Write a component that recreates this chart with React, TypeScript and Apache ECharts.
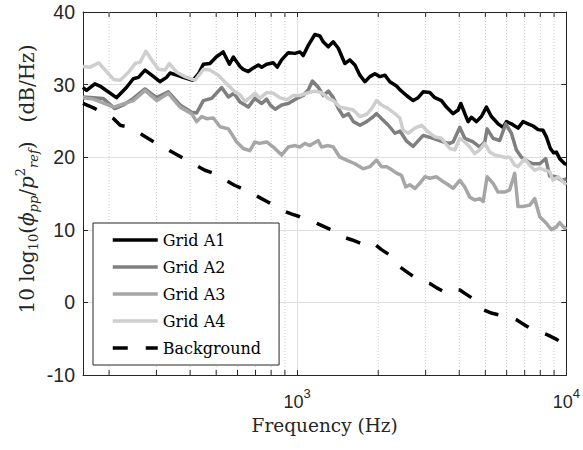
import React, { useEffect, useRef } from 'react';
import * as echarts from 'echarts';

// [frequency (Hz), level (dB/Hz)]
const gridA1: [number, number][] = [
  [160, 29.6], [165, 29.2], [177, 30.1], [185, 29.8], [213, 28.2], [232, 29.6], [246, 30.8], [257, 31.0],
  [272, 32.0], [288, 31.3], [309, 30.4], [327, 31.0], [337, 31.6], [357, 31.3], [377, 31.0], [410, 30.6],
  [430, 31.5], [448, 32.8], [474, 32.9], [500, 33.8], [531, 34.5], [560, 32.8], [579, 33.8], [613, 32.5],
  [630, 32.1], [658, 31.8], [687, 32.3], [717, 32.7], [738, 32.4], [770, 32.8], [815, 33.0], [843, 32.4],
  [875, 33.4], [926, 34.4], [981, 34.3], [1023, 34.5], [1053, 34.0], [1099, 35.4], [1163, 36.9], [1214, 36.7],
  [1249, 35.9], [1304, 35.2], [1361, 35.9], [1421, 35.0], [1503, 32.9], [1569, 33.4], [1638, 32.7], [1709, 31.3],
  [1784, 30.4], [1862, 31.1], [1943, 31.5], [2028, 31.1], [2117, 31.3], [2209, 30.4], [2338, 29.8], [2406, 29.3],
  [2547, 28.5], [2696, 27.8], [2813, 28.2], [2937, 29.0], [3109, 28.9], [3245, 28.2], [3435, 27.8], [3585, 26.9],
  [3795, 26.0], [3961, 26.5], [4053, 27.4], [4194, 26.0], [4314, 24.9], [4439, 25.5], [4634, 24.9], [4835, 25.6],
  [5047, 26.9], [5266, 25.6], [5576, 24.6], [5819, 24.1], [5988, 24.9], [6248, 24.6], [6614, 24.0], [6904, 24.9],
  [7204, 24.6], [7520, 24.3], [7849, 23.8], [8190, 23.7], [8427, 22.8], [8721, 21.2], [8974, 20.6], [9181, 20.7],
  [9447, 19.8], [9858, 19.1], [10000, 19.0],
];

const gridA2: [number, number][] = [
  [160, 28.3], [175, 28.2], [190, 28.1], [210, 26.7], [226, 27.2], [246, 28.1], [272, 29.4], [300, 28.2],
  [332, 29.0], [367, 27.2], [405, 26.2], [423, 26.1], [448, 27.8], [481, 28.1], [524, 29.6], [555, 28.3],
  [582, 28.8], [613, 27.6], [658, 26.9], [696, 28.1], [738, 27.4], [770, 28.0], [793, 27.2], [828, 26.6],
  [876, 27.2], [927, 27.4], [996, 28.1], [1054, 28.5], [1100, 29.3], [1139, 30.5], [1199, 29.6], [1251, 28.5],
  [1306, 29.1], [1362, 28.2], [1422, 26.7], [1484, 25.6], [1549, 26.0], [1617, 24.9], [1711, 24.4], [1811, 24.9],
  [1918, 25.6], [1973, 26.0], [2059, 25.3], [2181, 24.4], [2308, 23.3], [2409, 23.6], [2550, 22.2], [2696, 21.5],
  [2937, 23.0], [3199, 22.6], [3484, 22.1], [3688, 21.9], [3795, 22.1], [4018, 24.1], [4194, 22.6], [4502, 22.1],
  [4767, 21.4], [4976, 22.1], [5077, 23.9], [5343, 22.6], [5655, 22.3], [5952, 24.6], [6248, 23.3], [6523, 21.0],
  [6807, 20.0], [7204, 19.4], [7520, 19.1], [7962, 19.1], [8381, 19.8], [8671, 17.4], [9181, 17.3], [9581, 16.8],
  [10000, 17.0],
];

const gridA3: [number, number][] = [
  [160, 28.2], [175, 28.0], [208, 26.9], [246, 27.8], [272, 29.2], [301, 27.8], [332, 28.8], [367, 26.9],
  [405, 26.0], [423, 24.9], [442, 25.6], [461, 25.3], [488, 25.4], [517, 24.2], [555, 23.9], [596, 22.1],
  [630, 21.2], [667, 20.9], [696, 22.1], [723, 21.9], [770, 22.1], [815, 21.4], [875, 20.3], [926, 21.4],
  [981, 21.6], [1023, 21.4], [1068, 21.9], [1115, 21.6], [1147, 21.9], [1197, 22.3], [1231, 21.4], [1304, 21.6],
  [1361, 21.4], [1441, 20.0], [1525, 19.6], [1638, 19.1], [1758, 18.4], [1862, 18.7], [1971, 19.6], [2057, 18.7],
  [2147, 18.7], [2240, 18.3], [2338, 17.8], [2440, 17.5], [2530, 15.9], [2620, 16.2], [2735, 15.7], [2854, 16.4],
  [2979, 17.3], [3109, 17.1], [3292, 17.3], [3435, 16.8], [3637, 16.2], [3795, 15.7], [4018, 16.8], [4194, 15.9],
  [4376, 14.5], [4567, 14.1], [4767, 14.3], [4906, 13.9], [5077, 17.3], [5343, 16.4], [5576, 15.2], [5900, 15.2],
  [6160, 15.5], [6427, 17.8], [6612, 13.2], [6904, 13.2], [7307, 13.4], [7628, 14.3], [7962, 11.8], [8427, 10.9],
  [8797, 10.0], [9181, 10.4], [9447, 11.0], [9858, 10.2], [10000, 10.4],
];

const gridA4: [number, number][] = [
  [160, 32.5], [170, 32.4], [183, 33.0], [208, 30.7], [220, 30.6], [236, 31.7], [250, 32.9], [261, 33.1],
  [274, 34.6], [288, 33.4], [305, 32.1], [323, 32.0], [335, 32.9], [357, 31.7], [383, 31.1], [417, 30.6],
  [448, 32.1], [474, 32.0], [509, 31.3], [547, 30.1], [587, 29.0], [613, 28.6], [640, 27.7], [667, 28.2],
  [697, 28.8], [727, 28.1], [770, 28.9], [815, 28.8], [862, 28.2], [913, 27.9], [967, 28.5], [1023, 28.5],
  [1083, 28.8], [1163, 29.1], [1232, 28.9], [1304, 28.1], [1361, 27.8], [1441, 26.9], [1525, 26.7], [1614, 26.5],
  [1709, 25.6], [1809, 25.9], [1889, 26.7], [1971, 27.8], [2057, 27.2], [2177, 26.7], [2305, 26.0], [2406, 25.4],
  [2475, 23.7], [2584, 23.3], [2735, 24.0], [2895, 24.4], [3064, 23.5], [3245, 22.8], [3435, 22.6], [3688, 21.2],
  [3850, 21.0], [4018, 22.6], [4194, 22.1], [4376, 21.4], [4567, 20.5], [4767, 21.0], [4976, 21.9], [5192, 20.7],
  [5418, 20.3], [5900, 20.0], [6160, 20.0], [6427, 18.9], [6612, 18.7], [7003, 19.8], [7307, 18.9], [7628, 18.2],
  [7962, 18.5], [8311, 18.2], [8671, 18.0], [8920, 16.8], [9311, 17.3], [9858, 16.4], [10000, 16.2],
];

const background: [number, number][] = [
  [160, 27.4], [175, 26.8], [195, 25.9], [208, 25.3], [220, 24.4], [233, 24.2], [250, 23.7], [268, 23.0],
  [300, 21.9], [347, 20.6], [388, 19.6], [420, 18.9], [454, 18.2], [488, 17.8], [517, 17.3], [550, 16.7],
  [587, 16.1], [613, 15.8], [667, 15.2], [720, 14.5], [781, 13.8], [875, 12.7], [950, 12.2], [1023, 11.8],
  [1144, 11.1], [1230, 10.6], [1319, 10.1], [1400, 9.7], [1482, 9.0], [1600, 8.6], [1733, 8.1], [1862, 7.6],
  [1944, 8.0], [2050, 7.3], [2210, 6.5], [2406, 4.9], [2600, 4.0], [2775, 3.3], [3110, 2.6], [3300, 2.0],
  [3585, 1.3], [3796, 1.8], [4019, 1.7], [4250, 1.1], [4504, 0.5], [4907, -1.0], [5300, -1.5], [5739, -1.8],
  [6075, -2.0], [6524, -2.4], [7000, -3.1], [7522, -3.8], [8000, -4.1], [8551, -4.5], [9200, -5.1], [9858, -5.7],
  [10000, -5.8],
];

const seriesNames = ['Grid A1', 'Grid A2', 'Grid A3', 'Grid A4', 'Background'];
const minorFreqs = [200, 300, 400, 500, 600, 700, 800, 900, 2000, 3000, 4000, 5000, 6000, 7000, 8000, 9000];
const X_MIN = 160;
const X_MAX = 10000;
const Y_MIN = -10;
const Y_MAX = 40;
const Y_STEP = 10;

const AXIS_COLOR = '#262626';
const SERIF = 'DejaVu Serif';
const SANS = 'Liberation Sans';

export default function App() {
  const ref = useRef<HTMLDivElement>(null);

  useEffect(() => {
    if (!ref.current) return;
    const chart = echarts.init(ref.current, null, { renderer: 'svg' });

    const lineSeries = (name: string, data: [number, number][], color: string, dashed = false) => ({
      type: 'line',
      name,
      data,
      symbol: 'none',
      showSymbol: false,
      silent: true,
      z: 3,
      lineStyle: { color, width: 3.5, type: dashed ? [15, 18] : 'solid', join: 'round' },
      itemStyle: { color },
      emphasis: { disabled: true },
    });

    const xLabelFormatter = (v: number) => {
      const e = Math.log10(v);
      if (Math.abs(e - Math.round(e)) < 1e-6) return `{b|10}{s|${Math.round(e)}}`;
      return '';
    };

    const yTitle =
      '{n|10 log}{sb|10}{n|(}{it|ϕ}{sbi|pp}{n|/}{it|p}{sp|2}{sbi|ref}{n|)   (dB/Hz)}';

    const rt = (size: number, extra: Record<string, unknown> = {}) => ({
      fontFamily: SERIF,
      fontSize: size,
      fill: AXIS_COLOR,
      color: AXIS_COLOR,
      ...extra,
    });

    chart.setOption({
      animation: false,
      backgroundColor: '#ffffff',
      grid: { left: 83, right: 16, top: 12, bottom: 75, containLabel: false },
      xAxis: [
        {
          type: 'log',
          logBase: 10,
          min: X_MIN,
          max: X_MAX,
          name: 'Frequency (Hz)',
          nameLocation: 'middle',
          nameGap: 36,
          nameTextStyle: { fontFamily: SERIF, fontSize: 18.5, color: AXIS_COLOR },
          axisLine: { show: true, onZero: false, lineStyle: { color: AXIS_COLOR, width: 1 } },
          axisTick: { show: true, inside: true, length: 5, lineStyle: { color: AXIS_COLOR } },
          axisLabel: {
            show: true,
            margin: 12,
            formatter: xLabelFormatter,
            rich: {
              b: { fontFamily: SANS, fontSize: 18, color: AXIS_COLOR, lineHeight: 30, verticalAlign: 'middle' },
              s: { fontFamily: SANS, fontSize: 13, color: AXIS_COLOR, lineHeight: 12, verticalAlign: 'top' },
            },
          },
          splitLine: { show: true, lineStyle: { color: '#dedede', width: 1 } },
        },
        {
          type: 'log',
          logBase: 10,
          min: X_MIN,
          max: X_MAX,
          position: 'top',
          axisLine: { show: true, onZero: false, lineStyle: { color: AXIS_COLOR, width: 1 } },
          axisTick: { show: true, inside: true, length: 5, lineStyle: { color: AXIS_COLOR } },
          axisLabel: { show: false },
          splitLine: { show: false },
        },
      ],
      yAxis: [
        {
          type: 'value',
          min: Y_MIN,
          max: Y_MAX,
          interval: Y_STEP,
          axisLine: { show: true, onZero: false, lineStyle: { color: AXIS_COLOR, width: 1 } },
          axisTick: { show: true, inside: true, length: 5, lineStyle: { color: AXIS_COLOR } },
          axisLabel: { fontFamily: SANS, fontSize: 19.5, color: AXIS_COLOR, margin: 8 },
          splitLine: { show: true, lineStyle: { color: '#dedede', width: 1 } },
        },
        {
          type: 'value',
          min: Y_MIN,
          max: Y_MAX,
          interval: Y_STEP,
          position: 'right',
          axisLine: { show: true, onZero: false, lineStyle: { color: AXIS_COLOR, width: 1 } },
          axisTick: { show: true, inside: true, length: 5, lineStyle: { color: AXIS_COLOR } },
          axisLabel: { show: false },
          splitLine: { show: false },
        },
      ],
      legend: {
        data: seriesNames,
        orient: 'vertical',
        left: 93,
        top: 223,
        itemWidth: 45,
        itemHeight: 14,
        itemGap: 9,
        padding: [8, 18, 8, 18],
        backgroundColor: '#ffffff',
        borderColor: AXIS_COLOR,
        borderWidth: 1,
        borderRadius: 0,
        selectedMode: false,
        lineStyle: { width: 3.5 },
        itemStyle: { color: 'transparent', borderWidth: 0, opacity: 0 },
        textStyle: { fontFamily: SERIF, fontSize: 16, color: '#000000', lineHeight: 18 },
      },
      graphic: [
        {
          type: 'text',
          x: 27,
          y: 179,
          rotation: Math.PI / 2,
          silent: true,
          style: {
            text: yTitle,
            align: 'center',
            verticalAlign: 'middle',
            textAlign: 'center',
            textVerticalAlign: 'middle',
            fill: AXIS_COLOR,
            fontFamily: SERIF,
            fontSize: 20,
            rich: {
              n: rt(20, { lineHeight: 26, verticalAlign: 'middle' }),
              it: rt(20, { fontStyle: 'italic', lineHeight: 26, verticalAlign: 'middle' }),
              sb: rt(13, { lineHeight: 13, verticalAlign: 'bottom' }),
              sbi: rt(13, { fontStyle: 'italic', lineHeight: 13, verticalAlign: 'bottom' }),
              sp: rt(13, { lineHeight: 13, verticalAlign: 'top' }),
            },
          },
        },
      ],
      series: [
        {
          type: 'custom',
          silent: true,
          z: 1,
          xAxisIndex: 0,
          yAxisIndex: 0,
          data: minorFreqs.map((f) => [f, 0]),
          encode: { x: 0, y: 1 },
          renderItem: (_params: any, api: any) => {
            const f = api.value(0);
            const top = api.coord([f, Y_MAX]);
            const bot = api.coord([f, Y_MIN]);
            return {
              type: 'group',
              children: [
                {
                  type: 'line',
                  shape: { x1: top[0], y1: top[1], x2: bot[0], y2: bot[1] },
                  style: { stroke: '#cdcdcd', lineWidth: 1, lineDash: [1, 2] },
                },
                {
                  type: 'line',
                  shape: { x1: bot[0], y1: bot[1], x2: bot[0], y2: bot[1] - 5 },
                  style: { stroke: AXIS_COLOR, lineWidth: 1 },
                },
                {
                  type: 'line',
                  shape: { x1: top[0], y1: top[1], x2: top[0], y2: top[1] + 5 },
                  style: { stroke: AXIS_COLOR, lineWidth: 1 },
                },
              ],
            };
          },
        },
        lineSeries(seriesNames[0], gridA1, '#000000'),
        lineSeries(seriesNames[1], gridA2, '#7f7f7f'),
        lineSeries(seriesNames[2], gridA3, '#a6a6a6'),
        lineSeries(seriesNames[3], gridA4, '#cecece'),
        lineSeries(seriesNames[4], background, '#000000', true),
      ],
    });

    return () => chart.dispose();
  }, []);

  return (
    <div
      ref={ref}
      style={{ position: 'fixed', left: 0, top: 0, width: 583, height: 450 }}
    />
  );
}
